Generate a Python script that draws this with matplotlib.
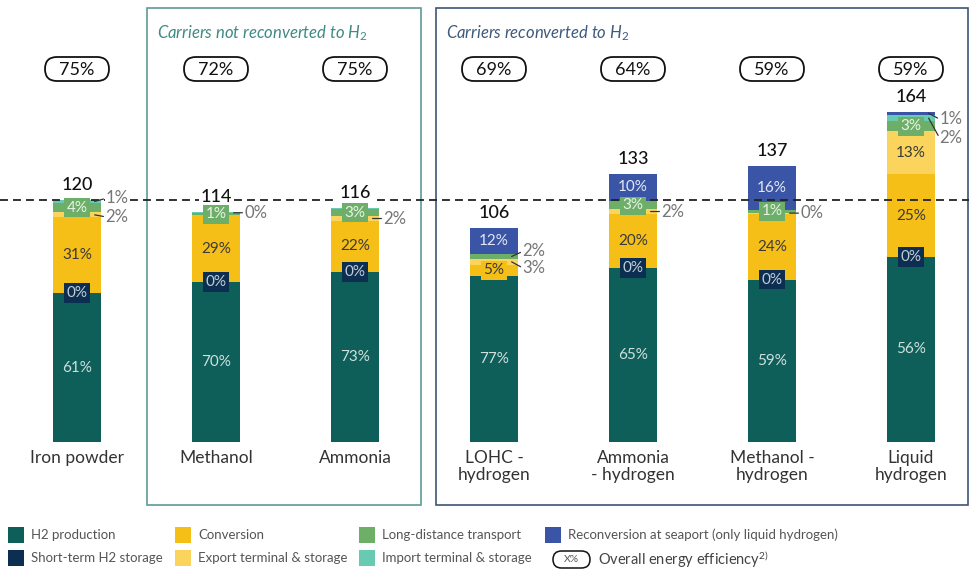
import numpy as np
import matplotlib.pyplot as plt
from matplotlib.patches import Rectangle, FancyBboxPatch

plt.rcParams['font.family'] = ['Lato', 'DejaVu Sans']
plt.rcParams['mathtext.fontset'] = 'custom'
plt.rcParams['mathtext.rm'] = 'Lato'
plt.rcParams['mathtext.it'] = 'Lato:italic'

categories = ["Iron powder", "Methanol", "Ammonia", "LOHC -\nhydrogen",
              "Ammonia\n- hydrogen", "Methanol -\nhydrogen", "Liquid\nhydrogen"]
totals = [120, 114, 116, 106, 133, 137, 164]
efficiency = [75, 72, 75, 69, 64, 59, 59]
reference_level = 120

# shares of each step in % of the total
h2_production = [61, 70, 73, 77, 65, 59, 56]
h2_storage = [0, 0, 0, 0, 0, 0, 0]
conversion = [31, 29, 22, 5, 20, 24, 25]
export_terminal = [2, 0, 2, 3, 2, 0.3, 13]
transport = [4, 1, 3, 2, 3, 1, 3]
import_terminal = [1, 0.4, 0.4, 0, 0, 0, 2]
reconversion = [0, 0, 0, 12, 10, 16, 1]

segment_names = ["H2 production", "Short-term H2 storage", "Conversion",
                 "Export terminal & storage", "Long-distance transport",
                 "Import terminal & storage",
                 "Reconversion at seaport (only liquid hydrogen)"]
segment_colors = ["#0e5f5a", "#0c2e50", "#f5bf18", "#fad45c", "#6daf69", "#66cbb0", "#3a55a6"]
label_colors = ["#cfe0dd", "#c3cdd8", "#3a3a3a", "#3a3a3a", "#e9f2e7", "#1d4d47", "#e2e7f4"]

# side labels: (bar, segment, vertical shift of label in px)
side_labels = [(0, 5, -3), (0, 3, 2), (1, 5, 0), (2, 3, 0), (3, 4, -5), (3, 3, 6),
               (4, 3, 0), (5, 3, 0), (6, 6, 6), (6, 5, 20)]
no_label = {(3, 1)}

W, H = 970, 569
base_px = 442
px_per_unit = 2.015
fig = plt.figure(figsize=(W / 100, H / 100), dpi=100)

ov = fig.add_axes([0, 0, 1, 1])
ov.set_xlim(0, W)
ov.set_ylim(H, 0)
ov.axis('off')

ax = fig.add_axes([0, (H - base_px) / H, 1, base_px / H])
ax.set_xlim(-77 / 139, (W - 77) / 139)
ax.set_ylim(0, base_px / px_per_unit)
ax.axis('off')

shares = np.array([h2_production, h2_storage, conversion, export_terminal,
                   transport, import_terminal, reconversion], dtype=float)
heights = shares / shares.sum(axis=0) * np.array(totals)
x = np.arange(len(categories))
bw = 0.34

bottom = np.zeros(len(categories))
for s in range(len(segment_names)):
    ax.bar(x, heights[s], bw, bottom=bottom, color=segment_colors[s], zorder=2)
    bottom += heights[s]

cum = np.vstack([np.zeros(len(categories)), np.cumsum(heights, axis=0)])
side_set = {(b, s) for b, s, _ in side_labels}
px2pt = 0.72

for b in x:
    for s in range(len(segment_names)):
        if (b, s) in side_set or (b, s) in no_label:
            continue
        if shares[s, b] < 1 and s != 1:
            continue
        yc = (cum[s, b] + cum[s + 1, b]) / 2
        ax.text(b, yc, f"{shares[s, b]:.0f}%", ha='center', va='center',
                fontsize=11, color=label_colors[s], zorder=4,
                bbox=dict(boxstyle='square,pad=0.18', fc=segment_colors[s], ec='none'))

for b, s, dy in side_labels:
    yc = (cum[s, b] + cum[s + 1, b]) / 2
    ax.annotate(f"{shares[s, b]:.0f}%", xy=(b + bw / 2 - 6 / 139, yc),
                xytext=(11 * px2pt, -dy * px2pt), textcoords='offset points',
                ha='left', va='center', fontsize=12, color='#757575', zorder=5,
                bbox=dict(boxstyle='square,pad=0.05', fc='white', ec='none'),
                arrowprops=dict(arrowstyle='-', color='#333333', lw=0.9,
                                relpos=(0, 0.5), shrinkA=1, shrinkB=0))

for b in x:
    ax.annotate(f"{totals[b]}", xy=(b, totals[b]), xytext=(0, 5),
                textcoords='offset points', ha='center', va='bottom',
                fontsize=13, fontweight='medium', color='#111111', zorder=3.5,
                bbox=dict(boxstyle='square,pad=0.1', fc='white', ec='none'))

ax.axhline(reference_level, color='#222222', lw=1.3, ls=(0, (4.4, 2.8)), zorder=3)

# pills and category labels in pixel coordinates
for b in x:
    cx = ax.transData.transform((b, 0))[0]
    ov.add_patch(FancyBboxPatch((cx - 32, 57), 64, 24,
                                boxstyle='round,pad=0,rounding_size=12',
                                fc='white', ec='#111111', lw=1.3))
    ov.text(cx, 69.5, f"{efficiency[b]}%", ha='center', va='center',
            fontsize=13, color='#111111')
    ov.text(cx, 450, categories[b], ha='center', va='top', fontsize=12.5,
            color='#333333', linespacing=1.1)

# panels
ov.add_patch(Rectangle((147, 8), 274, 497, fill=False, ec='#5c9b96', lw=1.2))
ov.add_patch(Rectangle((436, 8), 532, 497, fill=False, ec='#3e5576', lw=1.2))
ov.text(157, 33, r"Carriers not reconverted to H$_2$", fontstyle='italic',
        fontsize=12, color='#3f8a84', va='center', ha='left')
ov.text(446, 33, r"Carriers reconverted to H$_2$", fontstyle='italic',
        fontsize=12, color='#3e5a7c', va='center', ha='left')

# legend
col_x = [8, 175, 359, 545]
row_y = [535, 558]
legend_pos = [(0, 0), (0, 1), (1, 0), (1, 1), (2, 0), (2, 1), (3, 0)]
for s, (c, r) in enumerate(legend_pos):
    ov.add_patch(Rectangle((col_x[c], row_y[r] - 8), 16, 16, fc=segment_colors[s], ec='none'))
    ov.text(col_x[c] + 23, row_y[r], segment_names[s], ha='left', va='center',
            fontsize=9.5, color='#555555')
ov.add_patch(FancyBboxPatch((553, 551), 37, 17, boxstyle='round,pad=0,rounding_size=8.5',
                            fc='white', ec='#111111', lw=1.1))
ov.text(571.5, 559.5, "X%", ha='center', va='center', fontsize=7.5, color='#555555')
ov.text(598, 559, r"Overall energy efficiency$^{2)}$", ha='left', va='center',
        fontsize=10.5, color='#444444')

fig.savefig("out.png", dpi=100)
